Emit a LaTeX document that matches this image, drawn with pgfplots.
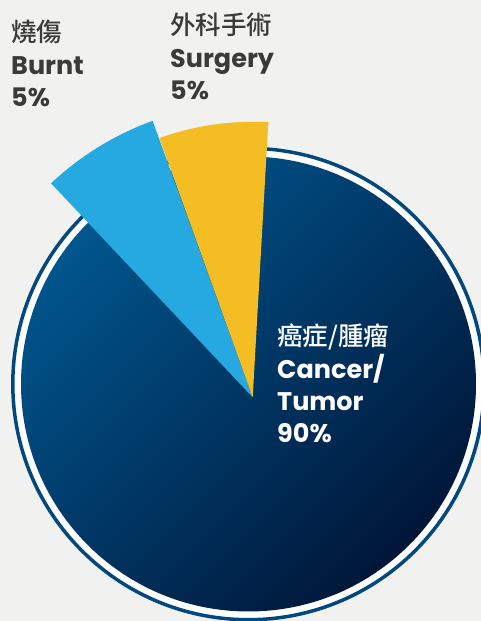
\documentclass[border=0pt]{standalone}
\usepackage{pgfplots}
\usepackage{pgfplotstable}
\pgfplotsset{compat=1.18}
\usepackage{fontspec}
\setmainfont{Poppins}
\newfontfamily\cjk{Noto Sans CJK TC}[UprightFont={* Medium}]
\definecolor{paper}{RGB}{241,241,240}
\definecolor{txt}{RGB}{58,58,58}
\definecolor{navyA}{RGB}{0,86,142}
\definecolor{navyB}{RGB}{0,22,56}
\definecolor{ringc}{RGB}{0,72,125}
\definecolor{cyanc}{RGB}{38,169,224}
\definecolor{yel}{RGB}{245,189,36}

% value = share in percent; start/end = drawn angles (deg); radius in px
\pgfplotstableread{
name    value start  end    radius
Cancer  90    0      360    227.5
Burnt   5     109.9  133.3  294
Surgery 5     86.75  109.8  275.5
}\pietable
\pgfplotstablegetelem{0}{radius}\of\pietable \let\cR\pgfplotsretval
\pgfplotstablegetelem{1}{start}\of\pietable \let\bS\pgfplotsretval
\pgfplotstablegetelem{1}{end}\of\pietable \let\bE\pgfplotsretval
\pgfplotstablegetelem{1}{radius}\of\pietable \let\bR\pgfplotsretval
\pgfplotstablegetelem{2}{start}\of\pietable \let\sS\pgfplotsretval
\pgfplotstablegetelem{2}{end}\of\pietable \let\sE\pgfplotsretval
\pgfplotstablegetelem{2}{radius}\of\pietable \let\sR\pgfplotsretval

\begin{document}
\begin{tikzpicture}
\begin{axis}[x=1pt,y=1pt,xmin=0,xmax=481,ymin=0,ymax=621,
  hide axis, scale only axis]
\fill[paper] (axis cs:0,0) rectangle (axis cs:481,621);
% outer ring
\filldraw[fill=white, draw=ringc, line width=3.5pt] (axis cs:248.5,237) circle[radius=235.7pt];
% main slice (full disk)
\shade[top color=navyA, bottom color=navyB, shading angle=45] (axis cs:248.5,237) circle[radius=\cR pt];
% exploded slices
\fill[cyanc] (axis cs:252.7,223.7) -- ++(\bS:\bR pt) arc[start angle=\bS, end angle=\bE, radius=\bR pt] -- cycle;
\fill[yel] (axis cs:252.7,223.7) -- ++(\sS:\sR pt) arc[start angle=\sS, end angle=\sE, radius=\sR pt] -- cycle;
% labels
\node[anchor=base west, inner sep=0pt, text=txt, font=\cjk\fontsize{25.5}{30}\selectfont] at (axis cs:11,579) {燒傷};
\node[anchor=base west, inner sep=0pt, text=txt, font=\bfseries\fontsize{25.5}{30}\selectfont] at (axis cs:11,546) {Burnt};
\node[anchor=base west, inner sep=0pt, text=txt, font=\bfseries\fontsize{25.5}{30}\selectfont] at (axis cs:11,514) {5\%};
\node[anchor=base west, inner sep=0pt, text=txt, font=\cjk\fontsize{25.5}{30}\selectfont] at (axis cs:170,586.5) {外科手術};
\node[anchor=base west, inner sep=0pt, text=txt, font=\bfseries\fontsize{25.5}{30}\selectfont] at (axis cs:170,553) {Surgery};
\node[anchor=base west, inner sep=0pt, text=txt, font=\bfseries\fontsize{25.5}{30}\selectfont] at (axis cs:170,521.5) {5\%};
\node[anchor=base west, inner sep=0pt, text=white, font=\cjk\fontsize{25.5}{30}\selectfont] at (axis cs:277,275) {癌症/腫瘤};
\node[anchor=base west, inner sep=0pt, text=white, font=\bfseries\fontsize{25.5}{30}\selectfont] at (axis cs:277,242) {Cancer/};
\node[anchor=base west, inner sep=0pt, text=white, font=\bfseries\fontsize{25.5}{30}\selectfont] at (axis cs:277,210) {Tumor};
\node[anchor=base west, inner sep=0pt, text=white, font=\bfseries\fontsize{25.5}{30}\selectfont] at (axis cs:277,178) {90\%};
\end{axis}
\end{tikzpicture}
\end{document}
